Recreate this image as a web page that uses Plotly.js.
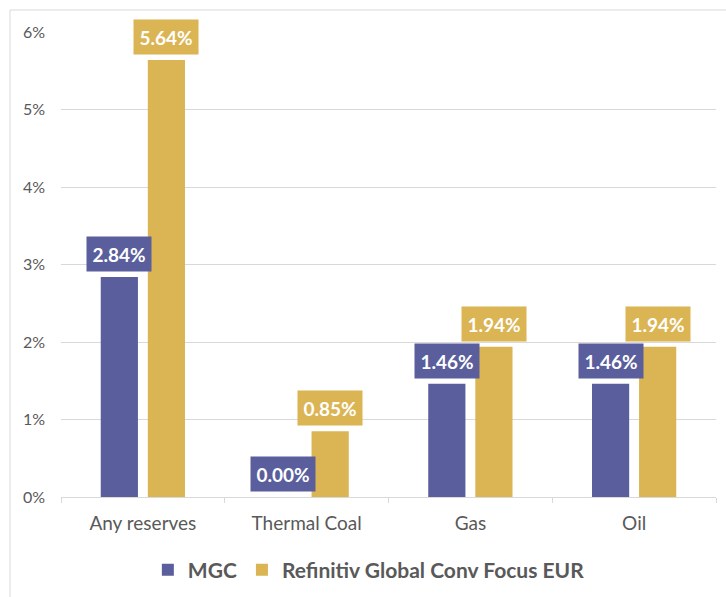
<!DOCTYPE html>
<html>
<head>
<meta charset="utf-8">
<script src="https://cdn.plot.ly/plotly-3.0.1.min.js"></script>
<style>
  html, body { margin: 0; padding: 0; background: #fff; }
  #chart { width: 726px; height: 597px; }
</style>
</head>
<body>
<div id="chart"></div>
<script>
const categories = ["Any reserves", "Thermal Coal", "Gas", "Oil"];
const mgcValues = [2.84, 0.00, 1.46, 1.46];
const refValues = [5.64, 0.85, 1.94, 1.94];
const seriesNames = ["MGC", "Refinitiv Global Conv Focus EUR"];
const yTicks = [0, 1, 2, 3, 4, 5, 6];

const purple = "#5a5e9c";
const gold = "#dbb453";
const FONT = "Lato, 'Open Sans', sans-serif";

const traces = [
  { type: "bar", name: seriesNames[0], x: categories, y: mgcValues,
    marker: { color: purple }, hoverinfo: "skip" },
  { type: "bar", name: seriesNames[1], x: categories, y: refValues,
    marker: { color: gold }, hoverinfo: "skip" }
];

const annotations = [];
function addLabels(vals, color, shift) {
  vals.forEach((v, i) => {
    annotations.push({
      x: categories[i], y: v, xref: "x", yref: "y",
      text: "<b>" + v.toFixed(2) + "%</b>",
      showarrow: false, yanchor: "bottom", xanchor: "center",
      xshift: shift, yshift: 5,
      bgcolor: color, borderpad: 5.5,
      font: { family: FONT, size: 19, color: "#ffffff" }
    });
  });
}
addLabels(mgcValues, purple, -23.5);
addLabels(refValues, gold, 23.5);

const layout = {
  width: 726, height: 597,
  margin: { l: 61, r: 10, t: 32, b: 100, autoexpand: false },
  paper_bgcolor: "#ffffff", plot_bgcolor: "#ffffff",
  font: { family: FONT, color: "#595959" },
  barmode: "group", bargap: 0.425, bargroupgap: 0.21,
  showlegend: true,
  legend: {
    orientation: "h", x: 0.47, xanchor: "center", y: -0.157, yanchor: "middle",
    font: { family: FONT, size: 21, color: "#595959", weight: "bold" },
    itemwidth: 30, tracegroupgap: 0
  },
  xaxis: {
    type: "category", tickson: "boundaries", ticks: "outside", ticklen: 5,
    tickcolor: "#d9d9d9", showline: true, linecolor: "#d9d9d9", linewidth: 1,
    showgrid: false, tickfont: { family: FONT, size: 19, color: "#595959" },
    ticklabelstandoff: 9, fixedrange: true, automargin: false
  },
  yaxis: {
    range: [0, 6], tickvals: yTicks, ticktext: yTicks.map(t => t + "%"),
    showgrid: true, gridcolor: "#d9d9d9", gridwidth: 1, zeroline: false,
    showline: false, ticks: "",
    tickfont: { family: FONT, size: 16, color: "#595959" },
    ticklabelstandoff: 15, fixedrange: true, automargin: false
  },
  annotations: annotations,
  shapes: [{
    type: "path", xref: "paper", yref: "paper",
    path: "M -0.0779 -0.3 L -0.0779 1.0473 L 1.2 1.0473",
    line: { color: "#d9d9d9", width: 1 }
  }]
};

Plotly.newPlot("chart", traces, layout, { displayModeBar: false, staticPlot: true });
</script>
</body>
</html>
